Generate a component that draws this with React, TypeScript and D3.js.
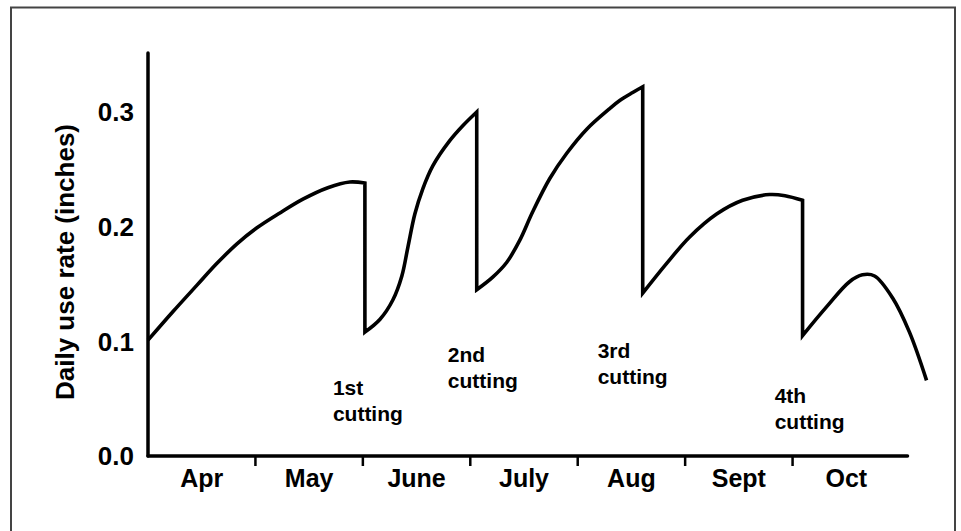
import React from "react";
import * as d3 from "d3";

// Months on the x-axis (position in months since April 1)
const monthLabels = ["Apr", "May", "June", "July", "Aug", "Sept", "Oct"];
const yTicks = [0.0, 0.1, 0.2, 0.3];

// Daily use rate (inches) for each growth period, [month position, rate]
const growthBeforeCut1: [number, number][] = [
  [0.0, 0.101], [0.233, 0.126], [0.456, 0.149], [0.642, 0.168], [0.828, 0.185],
  [1.014, 0.199], [1.228, 0.212], [1.442, 0.224], [1.674, 0.234], [1.879, 0.239],
  [2.019, 0.238],
];
const growthBeforeCut2: [number, number][] = [
  [2.019, 0.108], [2.158, 0.119], [2.279, 0.136], [2.363, 0.157], [2.419, 0.182],
  [2.484, 0.211], [2.558, 0.233], [2.651, 0.253], [2.809, 0.275], [2.93, 0.288],
  [3.06, 0.3],
];
const growthBeforeCut3: [number, number][] = [
  [3.06, 0.145], [3.209, 0.156], [3.34, 0.169], [3.46, 0.188], [3.581, 0.213],
  [3.74, 0.242], [3.898, 0.264], [4.084, 0.285], [4.298, 0.303], [4.391, 0.31],
  [4.512, 0.317], [4.605, 0.322],
];
const growthBeforeCut4: [number, number][] = [
  [4.605, 0.142], [4.828, 0.168], [5.042, 0.191], [5.293, 0.211], [5.535, 0.223],
  [5.786, 0.228], [5.93, 0.227], [6.093, 0.223],
];
const growthAfterCut4: [number, number][] = [
  [6.093, 0.105], [6.316, 0.13], [6.53, 0.152], [6.65, 0.158], [6.763, 0.157],
  [6.93, 0.138], [7.088, 0.108], [7.247, 0.066],
];
const periods = [growthBeforeCut1, growthBeforeCut2, growthBeforeCut3, growthBeforeCut4, growthAfterCut4];

// Cutting annotations: [month position, rate] of label's first line start
const cutLabels = [
  ["1st", "cutting"],
  ["2nd", "cutting"],
  ["3rd", "cutting"],
  ["4th", "cutting"],
];
const cutLabelPos: [number, number][] = [
  [1.721, 0.0534],
  [2.791, 0.0822],
  [4.186, 0.0857],
  [5.833, 0.0462],
];

const W = 961;
const H = 531;
const FONT = "'Liberation Sans', Arial, Helvetica, sans-serif";

export default function App() {
  const x = d3.scaleLinear().domain([0, 7]).range([148, 900]);
  const y = d3.scaleLinear().domain([0, 0.3]).range([456, 112]);

  const line = d3
    .line<[number, number]>()
    .x((d) => x(d[0]))
    .y((d) => y(d[1]))
    .curve(d3.curveCatmullRom.alpha(0.5));

  const pathD = periods
    .map((seg, i) => {
      const p = line(seg) || "";
      return i === 0 ? p : "L" + p.slice(1);
    })
    .join("");

  const axisEnd = 7.07;
  const yTop = 0.3515;

  return (
    <svg
      width={W}
      height={H}
      style={{ position: "absolute", left: 0, top: 0, background: "#fff" }}
      fontFamily={FONT}
    >
      <rect x={0} y={0} width={W} height={H} fill="#fff" />
      <rect x={11} y={7.5} width={944} height={530} fill="none" stroke="#444" strokeWidth={2} />

      {/* axes */}
      <line x1={x(0)} y1={y(yTop)} x2={x(0)} y2={y(0)} stroke="#000" strokeWidth={3.5} strokeLinecap="round" />
      <line x1={x(0)} y1={y(0)} x2={x(axisEnd)} y2={y(0)} stroke="#000" strokeWidth={3.5} strokeLinecap="round" />
      {d3.range(1, 7).map((m) => (
        <line key={m} x1={x(m)} y1={y(0)} x2={x(m)} y2={y(0) + 10} stroke="#000" strokeWidth={2.5} />
      ))}

      {/* y tick labels */}
      {yTicks.map((t) => (
        <text
          key={t}
          x={134}
          y={y(t)}
          dy="0.36em"
          textAnchor="end"
          fontSize={26}
          fontWeight="bold"
          fill="#000"
        >
          {t.toFixed(1)}
        </text>
      ))}

      {/* month labels */}
      {monthLabels.map((m, i) => (
        <text
          key={m}
          x={x(i + 0.5)}
          y={487}
          textAnchor="middle"
          fontSize={25}
          fontWeight="bold"
          fill="#000"
        >
          {m}
        </text>
      ))}

      {/* y-axis title */}
      <text
        transform={`translate(74, ${262}) rotate(-90)`}
        textAnchor="middle"
        fontSize={26}
        fontWeight="bold"
        fill="#000"
      >
        Daily use rate (inches)
      </text>

      {/* data curve */}
      <path d={pathD} fill="none" stroke="#000" strokeWidth={3.6} strokeLinejoin="miter" />

      {/* cutting annotations */}
      {cutLabels.map((lines, i) => (
        <text
          key={i}
          x={x(cutLabelPos[i][0])}
          y={y(cutLabelPos[i][1])}
          fontSize={21}
          fontWeight="bold"
          fill="#000"
        >
          <tspan x={x(cutLabelPos[i][0])}>{lines[0]}</tspan>
          <tspan x={x(cutLabelPos[i][0])} dy={26}>
            {lines[1]}
          </tspan>
        </text>
      ))}
    </svg>
  );
}
